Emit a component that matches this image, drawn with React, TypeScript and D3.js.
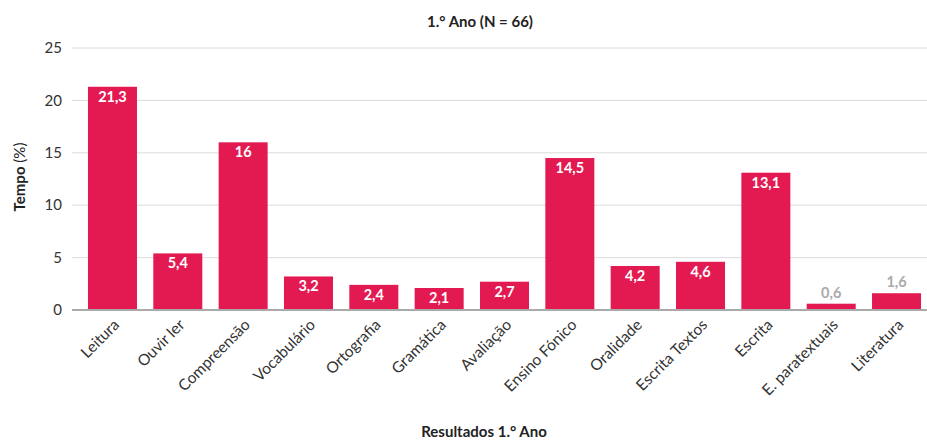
import React from "react";
import * as d3 from "d3";

const categories = ["Leitura", "Ouvir ler", "Compreensão", "Vocabulário", "Ortografia", "Gramática", "Avaliação", "Ensino Fónico", "Oralidade", "Escrita Textos", "Escrita", "E. paratextuais", "Literatura"];
const values = [21.3, 5.4, 16, 3.2, 2.4, 2.1, 2.7, 14.5, 4.2, 4.6, 13.1, 0.6, 1.6];
const yTicks = [0, 5, 10, 15, 20, 25];

const W = 927, H = 441;
const FONT = "Lato, 'Open Sans', sans-serif";
const BAR = "#e31a51";
const gridLeft = 72, gridRight = 927;

export default function App() {
  const x = d3.scaleBand<string>().domain(categories).range([79.8, 929.2]).paddingInner(0.25).paddingOuter(0.125);
  const y = d3.scaleLinear().domain([0, 25]).range([310, 48]);
  const fmt = (v: number) => String(v).replace(".", ",");
  return (
    <svg width={W} height={H} style={{ position: "absolute", left: 0, top: 0, fontFamily: FONT }}>
      <rect width={W} height={H} fill="#fff" />
      {yTicks.map((t) => (
        <g key={t}>
          {t > 0 && <line x1={gridLeft} x2={gridRight} y1={y(t)} y2={y(t)} stroke="#dcdcdc" strokeWidth={1} />}
          <text x={62} y={y(t)} dy="0.35em" textAnchor="end" fontSize={15} fill="#333">{t}</text>
        </g>
      ))}
      {categories.map((c, i) => {
        const v = values[i];
        const bx = x(c)!;
        const bw = x.bandwidth();
        const inside = v >= 2;
        return (
          <g key={c}>
            <rect x={bx} y={y(v)} width={bw} height={y(0) - y(v)} fill={BAR} />
            <text x={bx + bw / 2} y={inside ? y(v) + 15 : y(v) - 6} textAnchor="middle" fontSize={14.5} fontWeight="bold" fill={inside ? "#fff" : "#aaa"}>{fmt(v)}</text>
            <text transform={`translate(${bx + bw / 2 + 4},${y(0) + 12}) rotate(-45)`} textAnchor="end" dy="0.35em" fontSize={15.5} fill="#333">{c}</text>
          </g>
        );
      })}
      <line x1={gridLeft} x2={gridRight} y1={y(0)} y2={y(0)} stroke="#aaa" strokeWidth={2} />
      <text x={480} y={27} textAnchor="middle" fontSize={15} fontWeight="bold" fill="#222">1.° Ano (N = 66)</text>
      <text transform={`translate(25,${(y(0) + y(25)) / 2 - 2}) rotate(-90)`} textAnchor="middle" fontSize={15} fill="#222">
        <tspan fontWeight="bold">Tempo</tspan> (%)
      </text>
      <text x={484} y={437} textAnchor="middle" fontSize={15} fontWeight="bold" fill="#222">Resultados 1.° Ano</text>
    </svg>
  );
}
